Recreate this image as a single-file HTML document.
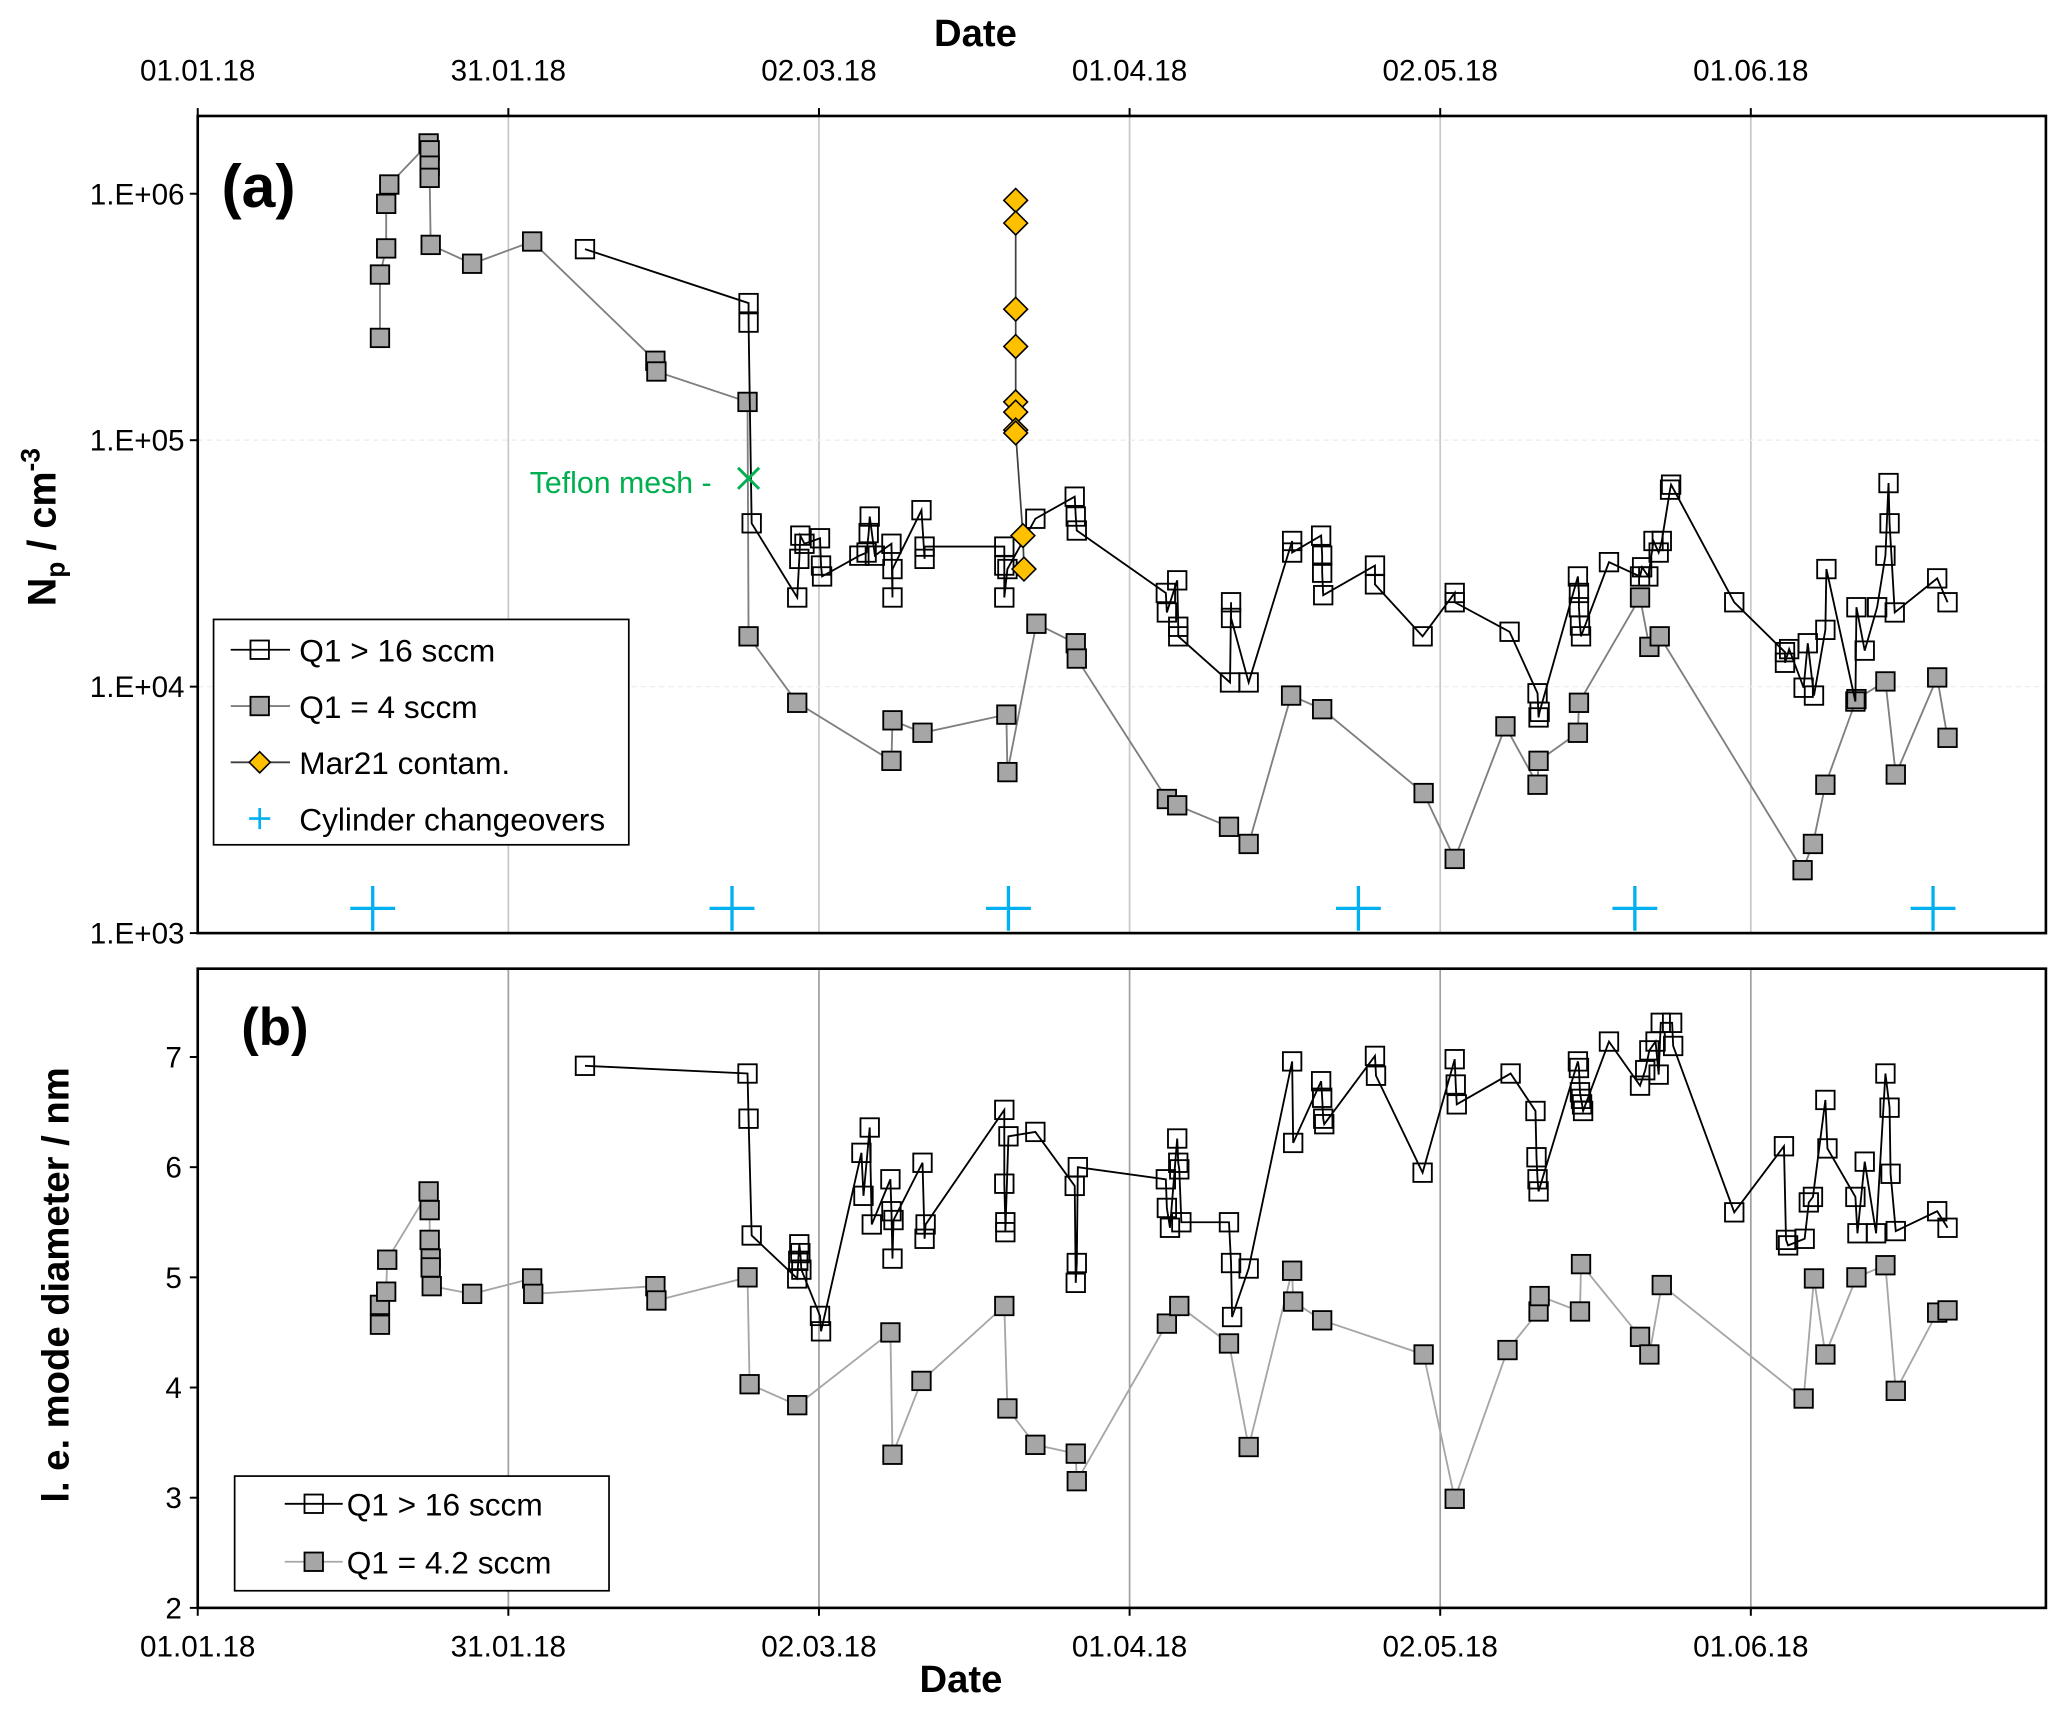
<!DOCTYPE html>
<html><head><meta charset="utf-8"><style>
html,body{margin:0;padding:0;background:#fff}
svg{display:block;font-family:"Liberation Sans",sans-serif}
</style></head><body>
<svg id="c" width="2067" height="1712" viewBox="0 0 1568 1299" preserveAspectRatio="none" xmlns="http://www.w3.org/2000/svg"></svg>
<script>
// ---- data (x = days since 01.01.18) ----
const xTickLabels=["01.01.18","31.01.18","02.03.18","01.04.18","02.05.18","01.06.18"];
const xTickDays=[0,30,60,90,120,150];
const aTickLabels=["1.E+03","1.E+04","1.E+05","1.E+06"];
const aTickVals=[1e3,1e4,1e5,1e6];
const bTickVals=[2,3,4,5,6,7];

const aHighDays=[37.4,53.2,53.2,53.5,57.9,58.1,58.2,58.6,60.1,60.2,60.3,63.9,64.6,64.9,64.8,65.4,67.0,67.1,67.1,69.9,70.2,70.2,77.9,77.9,77.9,78.2,80.9,84.7,84.8,84.9,93.5,93.6,94.6,94.7,94.7,99.8,99.8,99.7,101.5,105.7,105.7,108.5,108.6,108.6,108.7,113.7,113.7,118.3,121.4,121.4,126.7,129.4,129.5,129.6,133.3,133.4,133.4,133.5,133.6,136.3,139.3,139.5,140.1,140.6,141.1,141.4,142.2,142.3,148.4,153.3,153.3,153.7,155.1,155.5,156.1,157.3,157.2,160.1,160.2,161.0,162.2,163.0,163.3,163.4,163.9,168.0,169.0];
const aHighVals=[5.96e5,3.6e5,3.0e5,4.6e4,2.3e4,3.3e4,4.1e4,3.8e4,4.0e4,3.1e4,2.8e4,3.4e4,3.5e4,4.9e4,4.2e4,3.4e4,3.8e4,2.3e4,3.0e4,5.2e4,3.3e4,3.7e4,3.7e4,3.1e4,2.3e4,3.0e4,4.8e4,5.9e4,4.9e4,4.3e4,2.4e4,2.0e4,2.7e4,1.75e4,1.6e4,2.2e4,1.9e4,1.04e4,1.04e4,3.9e4,3.5e4,4.1e4,3.4e4,2.9e4,2.35e4,3.1e4,2.6e4,1.6e4,2.4e4,2.2e4,1.67e4,9.4e3,7.5e3,7.9e3,2.8e4,2.4e4,2.1e4,1.77e4,1.6e4,3.2e4,2.8e4,3.05e4,2.8e4,3.9e4,3.5e4,3.9e4,6.3e4,6.6e4,2.2e4,1.38e4,1.25e4,1.42e4,9.9e3,1.5e4,9.2e3,3.0e4,1.7e4,8.7e3,2.1e4,1.4e4,2.1e4,3.4e4,6.7e4,4.6e4,2.0e4,2.75e4,2.2e4];

const aLowDays=[17.6,17.6,18.2,18.2,18.5,22.3,22.4,22.4,22.4,22.5,26.5,32.3,44.2,44.3,53.1,53.2,57.9,67.0,67.1,70.0,78.1,78.2,81.0,84.8,84.9,93.6,94.6,99.6,101.5,105.6,108.6,118.4,121.4,126.3,129.4,129.5,133.3,133.4,139.3,140.2,141.2,155.0,156.0,157.2,160.2,163.0,164.0,168.0,169.0];
const aLowVals=[2.6e5,4.7e5,6.0e5,9.1e5,1.09e6,1.6e6,1.5e6,1.3e6,1.16e6,6.2e5,5.2e5,6.4e5,2.1e5,1.9e5,1.43e5,1.6e4,8.6e3,5.0e3,7.3e3,6.5e3,7.7e3,4.5e3,1.8e4,1.5e4,1.3e4,3.5e3,3.3e3,2.7e3,2.3e3,9.2e3,8.1e3,3.7e3,2.0e3,6.9e3,4.0e3,5.0e3,6.5e3,8.6e3,2.3e4,1.45e4,1.6e4,1.8e3,2.3e3,4.0e3,8.9e3,1.05e4,4.4e3,1.09e4,6.2e3];

const contamDays=[79.0,79.0,79.0,79.0,79.0,79.0,79.0,79.0,79.7,79.8];
const contamVals=[9.4e5,7.6e5,3.4e5,2.4e5,1.43e5,1.3e5,1.1e5,1.07e5,4.1e4,3.0e4];

const cylDays=[16.9,51.6,78.3,112.1,138.8,167.6];
const cylVals=[1.26e3,1.26e3,1.26e3,1.26e3,1.26e3,1.26e3];
const teflonDay=[53.2], teflonVal=[7.0e4];

const bHighDays=[37.4,53.1,53.2,53.5,57.9,58.0,58.1,58.2,58.3,60.1,60.2,64.1,64.3,64.9,65.1,66.9,67.0,67.1,67.2,70.0,70.2,70.3,77.9,77.9,78.0,78.0,78.3,80.9,84.7,84.8,84.9,85.0,93.5,93.6,93.9,94.6,94.7,94.8,95.0,99.6,99.8,99.9,101.5,105.7,105.8,108.5,108.6,108.7,108.8,113.7,113.8,118.3,121.4,121.5,121.6,126.8,129.2,129.3,129.4,129.5,133.3,133.4,133.5,133.6,133.7,133.8,136.3,139.3,139.8,140.2,140.8,141.1,141.3,142.4,142.5,148.4,153.2,153.4,153.6,155.2,155.6,156.0,157.2,157.4,160.1,160.3,161.0,162.1,163.0,163.4,163.5,164.0,168.0,169.0];
const bHighVals=[6.92,6.85,6.44,5.38,4.99,5.15,5.30,5.22,5.07,4.65,4.51,6.13,5.74,6.36,5.48,5.89,5.60,5.17,5.52,6.04,5.35,5.48,6.52,5.85,5.50,5.41,6.28,6.32,5.83,4.95,5.13,6.00,5.89,5.63,5.45,6.26,6.04,5.98,5.50,5.50,5.13,4.64,5.08,6.96,6.22,6.78,6.63,6.44,6.39,7.01,6.83,5.95,6.98,6.75,6.57,6.85,6.51,6.09,5.89,5.78,6.96,6.90,6.68,6.62,6.57,6.51,7.14,6.74,6.88,7.06,7.14,6.84,7.31,7.31,7.10,5.59,6.19,5.34,5.29,5.35,5.68,5.73,6.61,6.17,5.73,5.40,6.05,5.40,6.85,6.54,5.94,5.42,5.60,5.45];

const bLowDays=[17.6,17.6,18.2,18.3,22.3,22.4,22.4,22.5,22.5,22.6,26.5,32.3,32.4,44.2,44.3,53.1,53.3,57.9,66.9,67.1,69.9,77.9,78.2,80.9,84.8,84.9,93.6,94.8,99.6,101.5,105.7,105.8,108.6,118.4,121.4,126.5,129.5,129.6,133.5,133.6,139.3,140.2,141.4,155.1,156.1,157.2,160.2,163.0,164.0,168.0,169.0];
const bLowVals=[4.57,4.75,4.87,5.16,5.78,5.61,5.34,5.17,5.09,4.92,4.85,4.99,4.85,4.92,4.79,5.00,4.03,3.84,4.50,3.39,4.06,4.74,3.81,3.48,3.40,3.15,4.58,4.74,4.40,3.46,5.06,4.78,4.61,4.30,2.99,4.34,4.69,4.83,4.69,5.12,4.46,4.30,4.93,3.90,4.99,4.30,5.00,5.11,3.97,4.68,4.70];

// ---- geometry ----
const L=150,R=1552;
const A={t:88,b:708}, B={t:735,b:1220};
const xS=d=>L+d*(R-L)/178.5;
const yA=v=>708-(Math.log10(v)-3)*187;
const yB=v=>1220-(v-2)*83.6;
const svg=document.getElementById('c');
const NS='http://www.w3.org/2000/svg';
function mk(tag,attrs,parent){const e=document.createElementNS(NS,tag);for(const k in attrs)e.setAttribute(k,attrs[k]);(parent||svg).appendChild(e);return e;}
function txt(s,x,y,attrs,parent){const e=mk('text',Object.assign({x:x,y:y},attrs),parent);e.textContent=s;return e;}

xTickDays.forEach((d,i)=>{if(i==0)return;
 const g1=mk('line',{x1:xS(d),x2:xS(d),y1:A.t,y2:A.b,stroke:'#c8c8c8','stroke-width':1.3});
 
 const g2=mk('line',{x1:xS(d),x2:xS(d),y1:B.t,y2:B.b,stroke:'#a0a0a0','stroke-width':1.3});
 
});
[1e4,1e5].forEach(v=>{const g=mk('line',{x1:L,x2:R,y1:yA(v),y2:yA(v),stroke:'#eee','stroke-width':1,'stroke-dasharray':'4 3'});
 });

function order(days,vals){return days.map((d,i)=>[d,vals[i],i]).sort((a,b)=>a[0]-b[0]||a[2]-b[2]);}
function series(days,vals,yf,lineCol,fill,name){
 const pts=order(days,vals);
 const pl=mk('polyline',{points:pts.map(p=>xS(p[0])+','+yf(p[1])).join(' '),fill:'none',stroke:lineCol,'stroke-width':1.4});
 
 days.forEach((d,i)=>{const r=mk('rect',{x:xS(d)-7,y:yf(vals[i])-7,width:14,height:14,fill:fill,stroke:'#000','stroke-width':1.4});
  });
}
series(aLowDays,aLowVals,yA,'#7f7f7f','#a6a6a6','a-q1-4');
series(aHighDays,aHighVals,yA,'#000','none','a-q1-16');
(function(){const pl=mk('polyline',{points:contamDays.map((d,i)=>xS(d)+','+yA(contamVals[i])).join(' '),fill:'none',stroke:'#404040','stroke-width':1.3});
 
 contamDays.forEach((d,i)=>{const x=xS(d),y=yA(contamVals[i]);const p=mk('polygon',{points:`${x},${y-9} ${x+9},${y} ${x},${y+9} ${x-9},${y}`,fill:'#ffc000',stroke:'#000','stroke-width':1.2});
  });})();
cylDays.forEach((d,i)=>{const x=xS(d),y=yA(cylVals[i]);const g=mk('path',{d:`M${x-17},${y}H${x+17}M${x},${y-17}V${y+17}`,stroke:'#00b0f0','stroke-width':2.5,fill:'none'});
 });
teflonDay.forEach((d,i)=>{const x=xS(d),y=yA(teflonVal[i]);const g=mk('path',{d:`M${x-8},${y-8}L${x+8},${y+8}M${x+8},${y-8}L${x-8},${y+8}`,stroke:'#00b050','stroke-width':2.2});
 
 const t=txt('Teflon mesh -',x-28,y+11,{'font-size':23,fill:'#00b050','text-anchor':'end'});});

series(bLowDays,bLowVals,yB,'#a6a6a6','#a6a6a6','b-q1-4');
series(bHighDays,bHighVals,yB,'#000','none','b-q1-16');

[A,B].forEach((P,i)=>{const r=mk('rect',{x:L,y:P.t,width:R-L,height:P.b-P.t,fill:'none',stroke:'#000','stroke-width':2});
 });

aTickVals.forEach((v,i)=>{const y=yA(v);mk('line',{x1:L-6,x2:L,y1:y,y2:y,stroke:'#000','stroke-width':1.5});
 const t=txt(aTickLabels[i],L-10,y+8,{'font-size':22.5,'text-anchor':'end'});});
bTickVals.forEach(v=>{const y=yB(v);mk('line',{x1:L-6,x2:L,y1:y,y2:y,stroke:'#000','stroke-width':1.5});
 const t=txt(String(v),L-12,y+8,{'font-size':22.5,'text-anchor':'end'});});
xTickDays.forEach((d,i)=>{const x=xS(d);
 mk('line',{x1:x,x2:x,y1:A.t-6,y2:A.t,stroke:'#000','stroke-width':1.5});
 mk('line',{x1:x,x2:x,y1:B.b,y2:B.b+6,stroke:'#000','stroke-width':1.5});
 const t1=txt(xTickLabels[i],x,61,{'font-size':22.5,'text-anchor':'middle'});
 const t2=txt(xTickLabels[i],x,1257,{'font-size':22.5,'text-anchor':'middle'});});
</script>
<script>
(function(){
const svg=document.getElementById('c');const NS='http://www.w3.org/2000/svg';
function mk(tag,attrs,parent){const e=document.createElementNS(NS,tag);for(const k in attrs)e.setAttribute(k,attrs[k]);(parent||svg).appendChild(e);return e;}
function t(s,x,y,a,name){const e=mk('text',Object.assign({x:x,y:y},a));e.textContent=s;return e;}
t('Date',740,35,{'font-size':29,'font-weight':'bold','text-anchor':'middle'},'top-x-axis-title');
t('Date',729,1284,{'font-size':29,'font-weight':'bold','text-anchor':'middle'},'bottom-x-axis-title');
t('(a)',168,157,{'font-size':46,'font-weight':'bold'},'panel-a-label');
t('(b)',183,793,{'font-size':40,'font-weight':'bold'},'panel-b-label');
const ya=mk('text',{x:0,y:0,transform:'translate(42,400) rotate(-90)','font-size':30,'font-weight':'bold','text-anchor':'middle'});

ya.innerHTML='N<tspan font-size="20" dy="7">p</tspan><tspan dy="-7"> / cm</tspan><tspan font-size="20" dy="-12">-3</tspan>';
const yb=mk('text',{x:0,y:0,transform:'translate(52,975) rotate(-90)','font-size':29,'font-weight':'bold','text-anchor':'middle'});
yb.textContent='l. e. mode diameter / nm';
const la=mk('rect',{x:162,y:470,width:315,height:171,fill:'#fff',stroke:'#000','stroke-width':1.3});
const ent=[['Q1 > 16 sccm','sq','none','#000'],['Q1 = 4 sccm','sq','#a6a6a6','#7f7f7f'],['Mar21 contam.','dia','#ffc000','#404040'],['Cylinder changeovers','plus','','']];
ent.forEach((e,i)=>{const y=493+i*42.7;
 if(e[1]!='plus')mk('line',{x1:175,x2:220,y1:y,y2:y,stroke:e[3],'stroke-width':1.4});
 if(e[1]=='sq')mk('rect',{x:190,y:y-7,width:14,height:14,fill:e[2],stroke:'#000','stroke-width':1.4});
 if(e[1]=='dia')mk('polygon',{points:`197,${y-8} 205,${y} 197,${y+8} 189,${y}`,fill:e[2],stroke:'#000','stroke-width':1.2});
 if(e[1]=='plus')mk('path',{d:`M189,${y}H205M197,${y-8}V${y+8}`,stroke:'#00b0f0','stroke-width':2});
 t(e[0],227,y+9,{'font-size':24},'legend-a-entry');});
const lb=mk('rect',{x:178,y:1120,width:284,height:87,fill:'#fff',stroke:'#000','stroke-width':1.3});
[['Q1 > 16 sccm','none','#000'],['Q1 = 4.2 sccm','#a6a6a6','#a6a6a6']].forEach((e,i)=>{const y=1141+i*44;
 mk('line',{x1:216,x2:260,y1:y,y2:y,stroke:e[2],'stroke-width':1.4});
 mk('rect',{x:231,y:y-7,width:14,height:14,fill:e[1],stroke:'#000','stroke-width':1.4});
 t(e[0],263,y+9,{'font-size':24},'legend-b-entry');});
})();
</script>
</body></html>
